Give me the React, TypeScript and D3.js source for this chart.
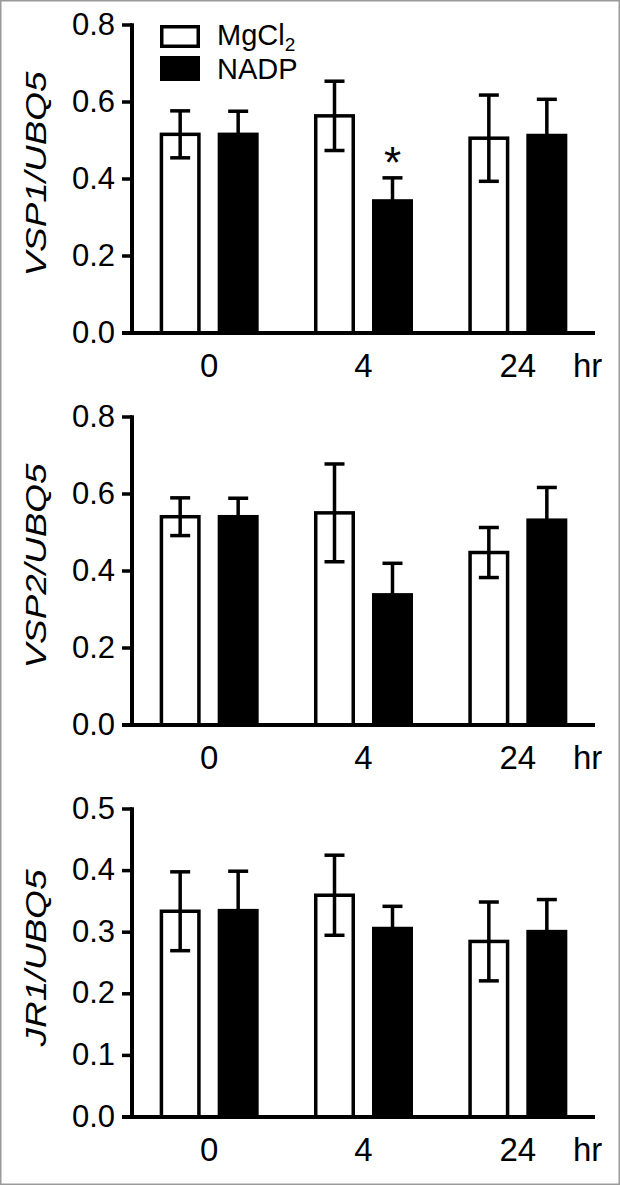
import React from "react";
import * as d3 from "d3";

const times = ["0", "4", "24"];
const seriesNames = ["MgCl2", "NADP"];

const vsp1Mg = [0.516, 0.564, 0.506];
const vsp1MgErr = [0.061, 0.09, 0.112];
const vsp1Nadp = [0.516, 0.343, 0.513];
const vsp1NadpErr = [0.06, 0.06, 0.094];

const vsp2Mg = [0.541, 0.551, 0.448];
const vsp2MgErr = [0.049, 0.127, 0.065];
const vsp2Nadp = [0.541, 0.338, 0.532];
const vsp2NadpErr = [0.048, 0.082, 0.085];

const jr1Mg = [0.334, 0.36, 0.285];
const jr1MgErr = [0.064, 0.065, 0.064];
const jr1Nadp = [0.335, 0.306, 0.301];
const jr1NadpErr = [0.064, 0.036, 0.052];

const ticks08 = [0, 0.2, 0.4, 0.6, 0.8];
const ticks05 = [0, 0.1, 0.2, 0.3, 0.4, 0.5];

const FONT = "'Liberation Sans', Arial, Helvetica, sans-serif";
const W = 620;
const H = 1185;
const SW = 3.5;

type PanelProps = {
  offsetY: number;
  label: string;
  labelLen: number;
  yMax: number;
  ticks: number[];
  mg: number[];
  mgErr: number[];
  nadp: number[];
  nadpErr: number[];
  legend?: boolean;
  star?: number;
};

function Panel(p: PanelProps) {
  const top = 25 + p.offsetY;
  const bottom = 333 + p.offsetY;
  const left = 132;
  const right = 595;
  const y = d3.scaleLinear().domain([0, p.yMax]).range([bottom, top]);
  const x = d3.scaleBand().domain(times).range([left, right]).padding(0);
  const xs = d3
    .scaleBand()
    .domain(seriesNames)
    .range([0, x.bandwidth()])
    .paddingInner(0.293)
    .paddingOuter(0.477);
  const bw = xs.bandwidth();
  const fmt = d3.format(".1f");
  const cap = 10;

  const bars: React.ReactNode[] = [];
  const errs: React.ReactNode[] = [];
  times.forEach((t, i) => {
    [
      { s: "MgCl2", v: p.mg[i], e: p.mgErr[i], fill: "#fff" },
      { s: "NADP", v: p.nadp[i], e: p.nadpErr[i], fill: "#000" },
    ].forEach((d) => {
      const bx = (x(t) as number) + (xs(d.s) as number);
      bars.push(
        <rect
          key={`b${t}${d.s}`}
          x={bx + SW / 2}
          y={y(d.v)}
          width={bw - SW}
          height={bottom - y(d.v)}
          fill={d.fill}
          stroke="#000"
          strokeWidth={SW}
        />
      );
      const cx = bx + bw / 2;
      errs.push(
        <g key={`e${t}${d.s}`} stroke="#000" strokeWidth={SW}>
          <line x1={cx} x2={cx} y1={y(d.v + d.e)} y2={y(d.v - d.e)} />
          <line x1={cx - cap} x2={cx + cap} y1={y(d.v + d.e)} y2={y(d.v + d.e)} />
          <line x1={cx - cap} x2={cx + cap} y1={y(d.v - d.e)} y2={y(d.v - d.e)} />
        </g>
      );
    });
  });

  let starNode: React.ReactNode = null;
  if (p.star !== undefined) {
    const t = times[p.star];
    const cx = (x(t) as number) + (xs("NADP") as number) + bw / 2;
    const cy = y(p.nadp[p.star] + p.nadpErr[p.star]) - 25;
    starNode = (
      <text x={cx} y={cy + 0.58 * 44} fontSize={44} textAnchor="middle" fontFamily={FONT}>
        *
      </text>
    );
  }

  return (
    <g>
      {bars}
      {errs}
      {starNode}
      <line x1={left} x2={left} y1={top - SW / 2} y2={bottom} stroke="#000" strokeWidth={SW + 0.5} />
      <line x1={left - 10} x2={right} y1={bottom} y2={bottom} stroke="#000" strokeWidth={SW + 0.5} />
      {p.ticks.map((t) => (
        <g key={`t${t}`}>
          <line x1={left - 10} x2={left} y1={y(t)} y2={y(t)} stroke="#000" strokeWidth={SW} />
          <text x={115} y={y(t) + 9.5} fontSize={31} textAnchor="end" fontFamily={FONT}>
            {fmt(t)}
          </text>
        </g>
      ))}
      {times.map((t) => (
        <text
          key={`x${t}`}
          x={(x(t) as number) + x.bandwidth() / 2}
          y={bottom + 44}
          fontSize={33}
          textAnchor="middle"
          fontFamily={FONT}
        >
          {t}
        </text>
      ))}
      <text x={573} y={bottom + 44} fontSize={33} fontFamily={FONT}>
        hr
      </text>
      <text
        transform={`translate(46,${(top + bottom) / 2 - 5}) rotate(-90)`}
        fontSize={29}
        fontStyle="italic"
        textAnchor="middle"
        fontFamily={FONT}
        textLength={p.labelLen}
        lengthAdjust="spacingAndGlyphs"
      >
        {p.label}
      </text>
      {p.legend && (
        <g>
          <rect x={161.75} y={26.75} width={36.5} height={19.5} fill="#fff" stroke="#000" strokeWidth={SW} />
          <rect x={161.75} y={57.75} width={36.5} height={21.5} fill="#000" stroke="#000" strokeWidth={SW} />
          <text x={217} y={45} fontSize={29} fontFamily={FONT}>
            MgCl
            <tspan fontSize={19} dy={6}>
              2
            </tspan>
          </text>
          <text x={217} y={79} fontSize={29} fontFamily={FONT}>
            NADP
          </text>
        </g>
      )}
    </g>
  );
}

export default function App() {
  return (
    <svg
      width={W}
      height={H}
      viewBox={`0 0 ${W} ${H}`}
      style={{ position: "absolute", left: 0, top: 0, background: "#fff" }}
    >
      <rect x={0.75} y={0.75} width={W - 1.5} height={H - 1.5} fill="#fff" stroke="#9a9a9a" strokeWidth={1.5} />
      <Panel
        offsetY={0}
        label="VSP1/UBQ5"
        labelLen={205}
        yMax={0.8}
        ticks={ticks08}
        mg={vsp1Mg}
        mgErr={vsp1MgErr}
        nadp={vsp1Nadp}
        nadpErr={vsp1NadpErr}
        legend
        star={1}
      />
      <Panel
        offsetY={392}
        label="VSP2/UBQ5"
        labelLen={205}
        yMax={0.8}
        ticks={ticks08}
        mg={vsp2Mg}
        mgErr={vsp2MgErr}
        nadp={vsp2Nadp}
        nadpErr={vsp2NadpErr}
      />
      <Panel
        offsetY={784}
        label="JR1/UBQ5"
        labelLen={177}
        yMax={0.5}
        ticks={ticks05}
        mg={jr1Mg}
        mgErr={jr1MgErr}
        nadp={jr1Nadp}
        nadpErr={jr1NadpErr}
      />
    </svg>
  );
}
